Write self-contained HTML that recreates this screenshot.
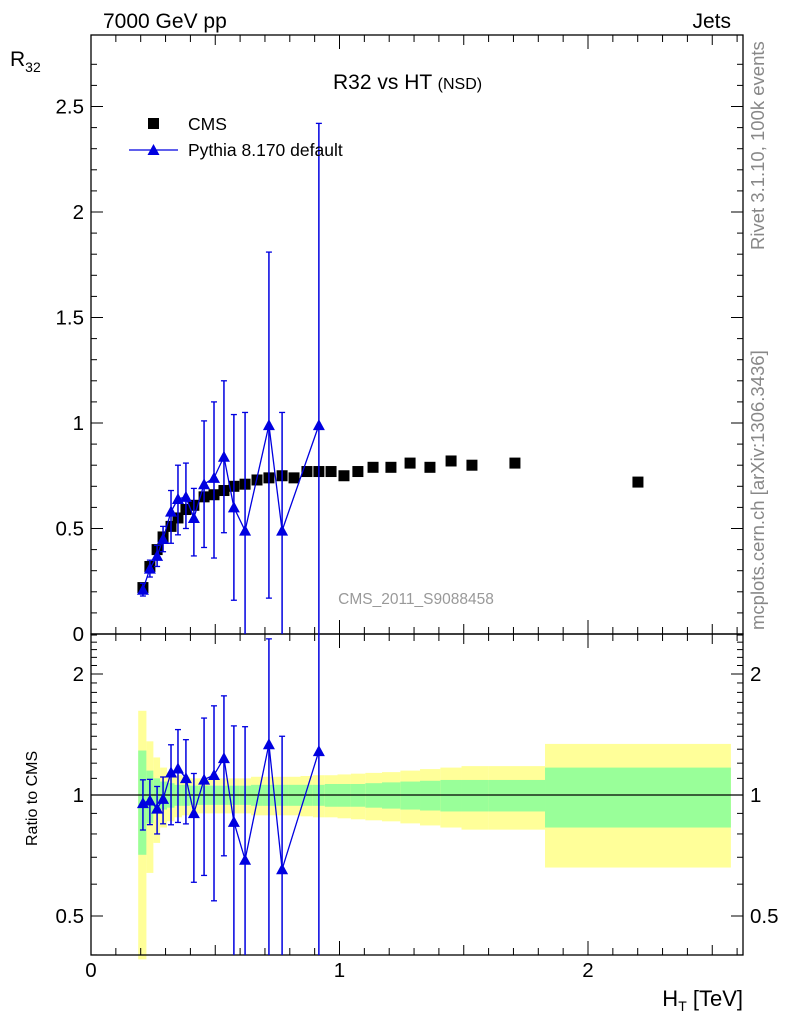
<!DOCTYPE html>
<html><head><meta charset="utf-8"><style>
body{margin:0;background:#fff;width:786px;height:1024px;overflow:hidden}
svg{display:block;font-family:"Liberation Sans",Arial,sans-serif}
</style></head><body>
<svg id="chart" width="786" height="1024" xmlns="http://www.w3.org/2000/svg">
<g id="bands"></g>
<g id="axes"></g>
<g id="marks"></g>
<text x="103" y="28" font-size="21">7000 GeV pp</text>
<text x="731" y="28" font-size="21" text-anchor="end">Jets</text>
<text x="10" y="66" font-size="21">R<tspan font-size="14" dy="6">32</tspan></text>
<text x="333" y="89" font-size="21">R32 vs HT <tspan font-size="16">(NSD)</tspan></text>
<g>
<rect x="148" y="118" width="11" height="11" fill="#000"/>
<text x="188" y="130" font-size="17.5">CMS</text>
<line x1="129" y1="150" x2="178" y2="150" stroke="#0000e0" stroke-width="1.3"/>
<polygon points="153.5,144 147.5,155 159.5,155" fill="#0000e0"/>
<text x="188" y="156" font-size="17.5">Pythia 8.170 default</text>
</g>
<text x="416" y="604" font-size="15.5" fill="#999" text-anchor="middle">CMS_2011_S9088458</text>
<text transform="translate(764,250) rotate(-90)" font-size="18.5" fill="#888">Rivet 3.1.10,  100k events</text>
<text transform="translate(764,630) rotate(-90)" font-size="18.5" fill="#888">mcplots.cern.ch [arXiv:1306.3436]</text>
<text transform="translate(37,846) rotate(-90)" font-size="16">Ratio to CMS</text>
<text x="743" y="1006" font-size="22" text-anchor="end">H<tspan font-size="14" dy="5">T</tspan><tspan dy="-5"> [TeV]</tspan></text>
</svg>
<script>
const cmsX=[0.209,0.237,0.266,0.290,0.322,0.350,0.382,0.414,0.455,0.495,0.535,0.575,0.620,0.668,0.716,0.769,0.817,0.869,0.917,0.966,1.018,1.074,1.135,1.207,1.284,1.364,1.449,1.533,1.706,2.201];
const cmsY=[0.22,0.32,0.40,0.46,0.51,0.55,0.59,0.61,0.65,0.66,0.68,0.70,0.71,0.73,0.74,0.75,0.74,0.77,0.77,0.77,0.75,0.77,0.79,0.79,0.81,0.79,0.82,0.80,0.81,0.72];
const binEdges=[0.19,0.223,0.251,0.278,0.306,0.336,0.366,0.398,0.434,0.475,0.515,0.555,0.597,0.644,0.692,0.742,0.793,0.843,0.893,0.941,0.992,1.046,1.104,1.171,1.245,1.324,1.406,1.491,1.60,1.827,2.575];
const cmsStat=[0.29,0.15,0.10,0.08,0.07,0.06,0.06,0.055,0.055,0.055,0.055,0.055,0.055,0.06,0.06,0.06,0.06,0.06,0.06,0.065,0.065,0.065,0.07,0.075,0.08,0.085,0.09,0.09,0.09,0.17];
const cmsTot=[0.62,0.36,0.24,0.17,0.14,0.12,0.11,0.10,0.10,0.10,0.10,0.10,0.10,0.11,0.11,0.11,0.11,0.115,0.12,0.12,0.125,0.13,0.135,0.14,0.15,0.16,0.17,0.18,0.18,0.34];
const pyX=[0.209,0.237,0.266,0.290,0.322,0.350,0.382,0.414,0.455,0.495,0.535,0.575,0.620,0.716,0.769,0.917];
const pyY=[0.21,0.31,0.37,0.45,0.58,0.64,0.65,0.55,0.71,0.74,0.84,0.60,0.49,0.99,0.49,0.99];
const pyErrUp=[0.03,0.04,0.05,0.06,0.10,0.16,0.16,0.14,0.30,0.36,0.36,0.44,0.56,0.82,0.56,1.43];
const pyErrDn=[0.03,0.04,0.05,0.06,0.15,0.17,0.15,0.18,0.30,0.38,0.36,0.44,0.60,0.82,0.60,1.00];
const mainTicks=[0,0.5,1,1.5,2,2.5];
const mainTickLabels=["0","0.5","1","1.5","2","2.5"];
const ratioTicks=[0.5,1,2];
const ratioTickLabels=["0.5","1","2"];
const xTicks=[0,1,2];
const xTickLabels=["0","1","2"];

const L=91,R=743,T=35,MB=634,RB=955;
const NS="http://www.w3.org/2000/svg";
const xs=v=>L+v*248.5;
const ys=v=>MB-v*211;
const lr=Math.log(2);
const yr=v=>795-Math.log(v)/lr*121;
function mk(tag,attrs,parent){const e=document.createElementNS(NS,tag);for(const k in attrs)e.setAttribute(k,attrs[k]);parent.appendChild(e);return e;}
const bands=document.getElementById('bands'),axes=document.getElementById('axes'),marks=document.getElementById('marks');
const clampR=v=>Math.min(Math.max(v,0.39),2.6);

for(let i=0;i<cmsX.length;i++){
  const x0=xs(binEdges[i]),x1=xs(binEdges[i+1]);
  const yt=mk('rect',{x:x0,y:yr(1+cmsTot[i]),width:x1-x0,height:yr(clampR(1-cmsTot[i]))-yr(1+cmsTot[i]),fill:'#ffff99'},bands);
  
  
  const gs=mk('rect',{x:x0,y:yr(1+cmsStat[i]),width:x1-x0,height:yr(1-cmsStat[i])-yr(1+cmsStat[i]),fill:'#99ff99'},bands);
  
  
}
const f1=mk('rect',{x:L,y:T,width:R-L,height:MB-T,fill:'none',stroke:'#000','stroke-width':1.3},axes);


const f2=mk('rect',{x:L,y:MB,width:R-L,height:RB-MB,fill:'none',stroke:'#000','stroke-width':1.3},axes);


const one=mk('line',{x1:L,x2:R,y1:yr(1),y2:yr(1),stroke:'#000','stroke-width':1.2},axes);


for(let v=0;v<=2.8;v+=0.1){const y=ys(v);const big=Math.abs(v/0.5-Math.round(v/0.5))<1e-6;const w=big?12:6;
  mk('line',{x1:L,x2:L+w,y1:y,y2:y,stroke:'#000'},axes);mk('line',{x1:R,x2:R-w,y1:y,y2:y,stroke:'#000'},axes);}
mainTicks.forEach((v,i)=>{const t=mk('text',{x:84,y:ys(v)+7,'font-size':20.5,'text-anchor':'end'},axes);t.textContent=mainTickLabels[i];
  
  });
[0.4,0.5,0.6,0.7,0.8,0.9,1,1.1,1.2,1.3,1.4,1.5,1.6,1.7,1.8,1.9,2,2.1,2.2,2.3,2.4,2.5].forEach(v=>{const y=yr(v);const big=ratioTicks.includes(v);const w=big?12:6;
  mk('line',{x1:L,x2:L+w,y1:y,y2:y,stroke:'#000'},axes);mk('line',{x1:R,x2:R-w,y1:y,y2:y,stroke:'#000'},axes);});
ratioTicks.forEach((v,i)=>{[[84,'end'],[750,'start']].forEach(([x,a])=>{const t=mk('text',{x:x,y:yr(v)+7,'font-size':20.5,'text-anchor':a},axes);t.textContent=ratioTickLabels[i];
  
  });});
for(let k=0;k<=26;k++){const v=k/10,x=xs(v);const big=k%10==0,mid=k%5==0;const h=big?14:(mid?10:7);
  [MB,RB].forEach(b=>mk('line',{x1:x,x2:x,y1:b,y2:b-h,stroke:'#000'},axes));
  [T,MB].forEach(b=>mk('line',{x1:x,x2:x,y1:b,y2:b+h,stroke:'#000'},axes));}
xTicks.forEach((v,i)=>{const t=mk('text',{x:xs(v),y:977,'font-size':20.5,'text-anchor':'middle'},axes);t.textContent=xTickLabels[i];
  
  });
cmsX.forEach((x,i)=>{const r=mk('rect',{x:xs(x)-5.5,y:ys(cmsY[i])-5.5,width:11,height:11,fill:'#000'},marks);
  
  });
const blue='#0000e0';
const clip=(y,a,b)=>Math.min(Math.max(y,a),b);
function series(yf,vals,up,dn,top,bot,name){
  const pts=pyX.map((x,i)=>xs(x)+','+yf(vals[i])).join(' ');
  const pl=mk('polyline',{points:pts,fill:'none',stroke:blue,'stroke-width':1.3},marks);
  
  
  pyX.forEach((xv,i)=>{const x=xs(xv);
    const y1=clip(yf(vals[i]+up[i]),top,bot),y2=clip(vals[i]-dn[i]>0?yf(vals[i]-dn[i]):bot,top,bot);
    const e=mk('line',{x1:x,x2:x,y1:y1,y2:y2,stroke:blue,'stroke-width':1.5},marks);
    
    
    if(y1>top)mk('line',{x1:x-3,x2:x+3,y1:y1,y2:y1,stroke:blue,'stroke-width':1.3},marks);
    if(y2<bot)mk('line',{x1:x-3,x2:x+3,y1:y2,y2:y2,stroke:blue,'stroke-width':1.3},marks);
    const y=yf(vals[i]);
    const p=mk('polygon',{points:`${x},${y-6} ${x-6},${y+5} ${x+6},${y+5}`,fill:blue},marks);
    
    });
}
series(ys,pyY,pyErrUp,pyErrDn,T,MB,'pythia');
const idx=pyX.map(x=>cmsX.indexOf(x));
const rY=pyY.map((v,i)=>v/cmsY[idx[i]]);
const rUp=pyErrUp.map((v,i)=>v/cmsY[idx[i]]);
const rDn=pyErrDn.map((v,i)=>v/cmsY[idx[i]]);
series(v=>yr(Math.max(v,0.01)),rY,rUp,rDn,MB,RB,'pythia-ratio');
</script>
</body></html>
